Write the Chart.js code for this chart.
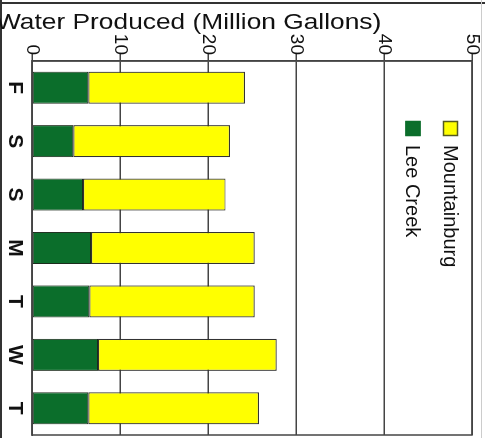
<!DOCTYPE html>
<html>
<head>
<meta charset="utf-8">
<script src="https://cdn.jsdelivr.net/npm/chart.js@4"></script>
<style>
  html, body { margin: 0; padding: 0; background: #fff; overflow: hidden; }
  /* chart is drawn upright, then turned a quarter turn clockwise like the scan */
  #wrap { position: absolute; left: 0; top: 0; width: 438px; height: 485px;
          transform-origin: 0 0; transform: translate(485px, 0) rotate(90deg); }
  canvas { display: block; }
</style>
</head>
<body>
<div id="wrap"><canvas id="waterChart" width="438" height="485"></canvas></div>
<script>
const days = ['F', 'S', 'S', 'M', 'T', 'W', 'T'];
const leeCreek = [6.4, 4.7, 5.8, 6.7, 6.5, 7.5, 6.4];
const mountainburg = [17.8, 17.8, 16.2, 18.6, 18.8, 20.3, 19.4];
const valueMax = 50;
const valueStep = 10;
const titleText = 'Water Produced (Million Gallons)';

const FONT = '"Liberation Sans", Arial, sans-serif';
Chart.defaults.font.family = FONT;

const extras = {
  id: 'extras',
  afterDraw(chart) {
    const ctx = chart.ctx;
    const a = chart.chartArea;
    ctx.save();
    ctx.strokeStyle = '#444';
    ctx.lineWidth = 1.5;
    ctx.strokeRect(a.left, a.top, a.right - a.left, a.bottom - a.top);

    // scan frame
    ctx.lineWidth = 2;
    ctx.strokeStyle = '#333';
    ctx.beginPath(); ctx.moveTo(3, 0); ctx.lineTo(3, 485); ctx.stroke();
    ctx.beginPath(); ctx.moveTo(0, 484); ctx.lineTo(438, 484); ctx.stroke();
    ctx.strokeStyle = '#ccc';
    ctx.lineWidth = 1;
    ctx.beginPath(); ctx.moveTo(0, 3.5); ctx.lineTo(438, 3.5); ctx.stroke();

    // legend, Mountainburg first
    const items = chart.data.datasets.slice().reverse();
    const rowsY = [34.5, 72];
    ctx.font = '20px ' + FONT;
    ctx.textAlign = 'left';
    ctx.textBaseline = 'middle';
    items.forEach((ds, i) => {
      const y = rowsY[i];
      ctx.fillStyle = ds.backgroundColor;
      ctx.fillRect(121, y - 7.5, 15, 15);
      ctx.strokeStyle = ds.legendBorder;
      ctx.lineWidth = 1.5;
      ctx.strokeRect(121.5, y - 7, 14, 14);
      ctx.fillStyle = '#111';
      ctx.fillText(ds.label, 145, y + 1);
    });
    ctx.restore();

    // axis title, runs along the value axis
    ctx.save();
    ctx.translate(22.5, 489);
    ctx.rotate(-Math.PI / 2);
    ctx.scale(1.17, 1);
    ctx.font = '22.5px ' + FONT;
    ctx.fillStyle = '#111';
    ctx.textAlign = 'left';
    ctx.textBaseline = 'middle';
    ctx.fillText(titleText, 0, 0);
    ctx.restore();
  }
};

const ctx = document.getElementById('waterChart').getContext('2d');
new Chart(ctx, {
  type: 'bar',
  data: {
    labels: days,
    datasets: [
      {
        label: 'Lee Creek',
        data: leeCreek,
        backgroundColor: '#0b6e2b',
        borderColor: '#1c2b1c',
        legendBorder: '#0b6e2b',
        borderWidth: 1,
        borderSkipped: false,
        categoryPercentage: 0.6,
        barPercentage: 1
      },
      {
        label: 'Mountainburg',
        data: mountainburg,
        backgroundColor: '#ffff00',
        borderColor: '#333',
        legendBorder: '#555a20',
        borderWidth: 1.2,
        borderSkipped: false,
        categoryPercentage: 0.6,
        barPercentage: 1
      }
    ]
  },
  options: {
    responsive: false,
    animation: false,
    devicePixelRatio: 1,
    layout: { padding: { top: 13, right: 3, left: 0, bottom: 0 } },
    plugins: {
      legend: { display: false },
      title: { display: false },
      tooltip: { enabled: false }
    },
    scales: {
      x: {
        stacked: true,
        grid: { display: false, drawTicks: false },
        border: { display: true, color: '#444', width: 1.5 },
        ticks: {
          color: '#111',
          font: { size: 21, weight: 'bold' },
          padding: 5,
          minRotation: 0,
          maxRotation: 0,
          autoSkip: false
        },
        afterFit: s => { s.height = 32; }
      },
      y: {
        stacked: true,
        min: 0,
        max: valueMax,
        ticks: { stepSize: valueStep, color: '#111', font: { size: 19 }, padding: -2 },
        grid: { color: '#444', lineWidth: 1.5, tickLength: 8 },
        border: { color: '#444', width: 1.5 },
        afterFit: s => { s.width = 61; }
      }
    }
  },
  plugins: [extras]
});
</script>
</body>
</html>
